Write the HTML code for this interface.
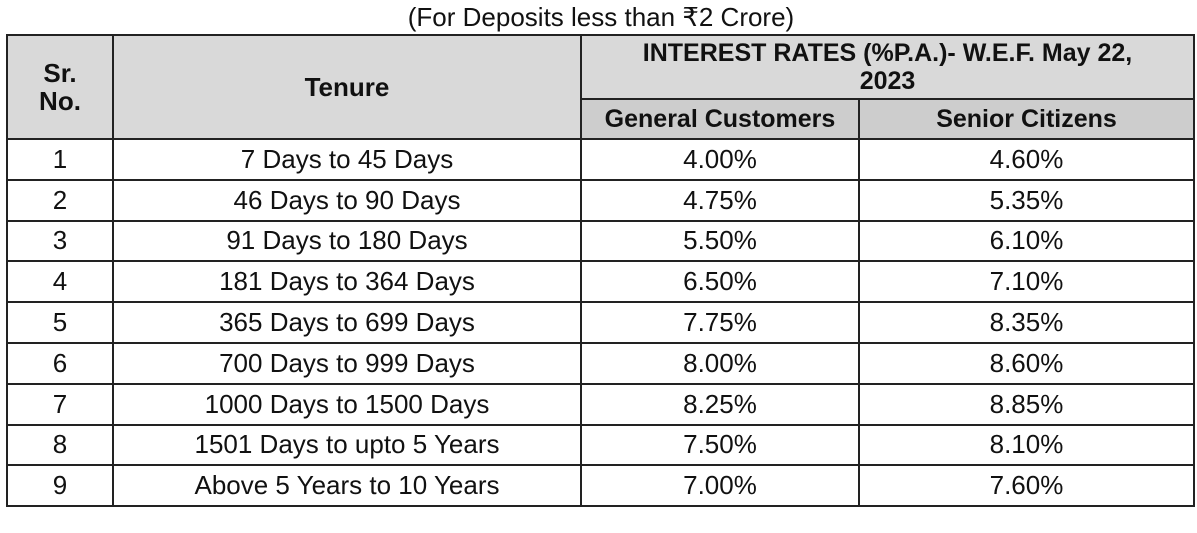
<!DOCTYPE html>
<html><head><meta charset="utf-8"><style>
body{margin:0;width:1197px;height:533px;background:#fff;font-family:"Liberation Sans",Arial,sans-serif;color:#111;position:relative;overflow:hidden}
.t{position:absolute;left:0;width:1197px;top:3px;text-align:center;font-size:26px;line-height:28px;padding-left:5px;box-sizing:border-box}
table{position:absolute;left:6px;top:34px;border-collapse:collapse;width:1189px;table-layout:fixed}
td,th{border:2px solid #222;text-align:center;font-size:26px;padding:0;white-space:nowrap}
th{background:#d9d9d9;font-weight:bold;line-height:28px}
th.s{background:#cdcdcd;height:38px;font-size:25px}
td{height:38.8px}
</style></head><body>
<div class="t">(For Deposits less than ₹2 Crore)</div>
<table>
<colgroup><col style="width:106px"><col style="width:468px"><col style="width:278px"><col></colgroup>
<tr style="height:64px"><th rowspan="2">Sr.<br>No.</th><th rowspan="2">Tenure</th><th colspan="2" style="font-size:25px">INTEREST RATES (%P.A.)- W.E.F. May 22,<br>2023</th></tr>
<tr><th class="s">General Customers</th><th class="s">Senior Citizens</th></tr>
<tr><td>1</td><td>7 Days to 45 Days</td><td>4.00%</td><td>4.60%</td></tr>
<tr><td>2</td><td>46 Days to 90 Days</td><td>4.75%</td><td>5.35%</td></tr>
<tr><td>3</td><td>91 Days to 180 Days</td><td>5.50%</td><td>6.10%</td></tr>
<tr><td>4</td><td>181 Days to 364 Days</td><td>6.50%</td><td>7.10%</td></tr>
<tr><td>5</td><td>365 Days to 699 Days</td><td>7.75%</td><td>8.35%</td></tr>
<tr><td>6</td><td>700 Days to 999 Days</td><td>8.00%</td><td>8.60%</td></tr>
<tr><td>7</td><td>1000 Days to 1500 Days</td><td>8.25%</td><td>8.85%</td></tr>
<tr><td>8</td><td>1501 Days to upto 5 Years</td><td>7.50%</td><td>8.10%</td></tr>
<tr><td>9</td><td>Above 5 Years to 10 Years</td><td>7.00%</td><td>7.60%</td></tr>
</table>
</body></html>
